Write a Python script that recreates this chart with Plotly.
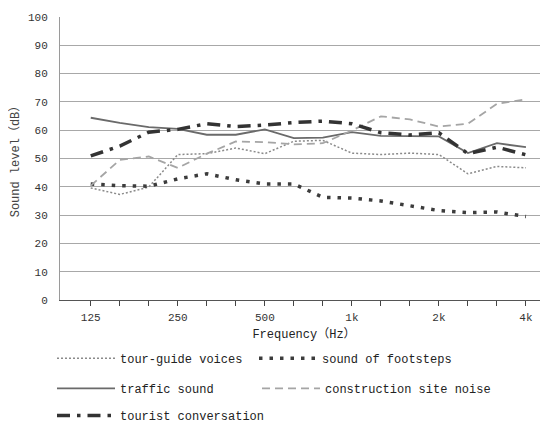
import plotly.graph_objects as go

bands = ["125", "160", "200", "250", "315", "400", "500", "630", "800",
         "1k", "1.25k", "1.6k", "2k", "2.5k", "3.15k", "4k"]
tick_labels = ["125", "", "", "250", "", "", "500", "", "", "1k", "", "", "2k", "", "", "4k"]

tour_guide = [39.6, 37.3, 39.9, 51.4, 51.7, 53.7, 51.7, 56.1, 56.4, 51.9, 51.4, 51.9, 51.4, 44.6, 47.2, 46.7]
footsteps = [41.0, 40.4, 40.2, 42.8, 44.6, 42.5, 41.0, 41.0, 36.3, 36.0, 35.0, 33.3, 31.6, 30.9, 31.1, 29.5]
traffic = [64.4, 62.6, 61.1, 60.5, 58.4, 58.4, 60.3, 57.2, 57.4, 59.3, 58.0, 58.0, 57.8, 51.9, 55.4, 54.0]
construction = [40.4, 49.5, 50.7, 46.7, 51.7, 56.0, 55.8, 55.0, 55.4, 59.9, 64.9, 63.8, 61.3, 62.3, 69.3, 70.9]
tourist = [50.9, 54.4, 59.3, 60.3, 62.3, 61.3, 61.8, 62.7, 63.2, 62.3, 59.1, 58.3, 59.1, 51.7, 54.0, 51.3]

x = list(range(len(bands)))
FONT = "Liberation Mono, Noto Sans CJK SC, monospace"

fig = go.Figure()
fig.add_trace(go.Scatter(x=x, y=tour_guide, mode="lines", name="tour-guide voices", showlegend=True,
                         line=dict(color="#8a8a8a", width=1.5, dash="2px,2px"), legend="legend"))
fig.add_trace(go.Scatter(x=x, y=footsteps, mode="lines", name="sound of footsteps", showlegend=True,
                         line=dict(color="#3c3c3c", width=3.5, dash="3.5px,7px"), legend="legend2"))
fig.add_trace(go.Scatter(x=x, y=traffic, mode="lines", name="traffic sound", showlegend=True,
                         line=dict(color="#6a6a6a", width=1.8), legend="legend3"))
fig.add_trace(go.Scatter(x=x, y=construction, mode="lines", name="construction site noise", showlegend=True,
                         line=dict(color="#a5a5a5", width=1.8, dash="8px,5px"), legend="legend4"))
fig.add_trace(go.Scatter(x=x, y=tourist, mode="lines", name="tourist conversation", showlegend=True,
                         line=dict(color="#333333", width=3.5, dash="13px,7px,3.5px,7px"), legend="legend5"))

leg_common = dict(orientation="h", xanchor="left", yanchor="middle",
                  itemwidth=58, bgcolor="rgba(0,0,0,0)",
                  font=dict(family=FONT, size=12, color="#222222"))

col1 = -0.0164
col2 = 0.3975
col2b = 0.4037
row1, row2, row3 = -0.206, -0.312, -0.408

# page body has an 8px default margin, so the figure is sized to fill the
# remaining visible window area
fig.update_layout(
    width=540, height=417,
    showlegend=True,
    margin=dict(l=52, r=0, t=9, b=125, autoexpand=False),
    plot_bgcolor="white", paper_bgcolor="white",
    font=dict(family=FONT, size=11, color="#333333"),
    legend=dict(x=col1, y=row1, **leg_common),
    legend2=dict(x=col2, y=row1, **leg_common),
    legend3=dict(x=col1, y=row2, **leg_common),
    legend4=dict(x=col2b, y=row2, **leg_common),
    legend5=dict(x=col1, y=row3, **leg_common),
)
fig.update_xaxes(
    range=[-1.06, 15.76], tickmode="array", tickvals=x, ticktext=tick_labels,
    ticks="outside", ticklen=5, tickcolor="#444444", tickwidth=1,
    showgrid=False, zeroline=False, showline=True, linecolor="#555555", linewidth=1.2,
    tickfont=dict(size=11, color="#333333"), ticklabelstandoff=2,
    title=dict(text="Frequency（Hz）", font=dict(size=12, color="#222222"), standoff=6),
)
fig.update_yaxes(
    range=[0, 100], dtick=10, showgrid=True, gridcolor="#a8a8a8", gridwidth=1.4,
    zeroline=False, showline=True, linecolor="#9a9a9a", linewidth=1,
    ticks="", ticklabelstandoff=9, tickfont=dict(size=11, color="#333333"),
    title=dict(text="Sound level（dB）", font=dict(size=12, color="#444444"), standoff=5),
)

fig.write_html("out.html")
